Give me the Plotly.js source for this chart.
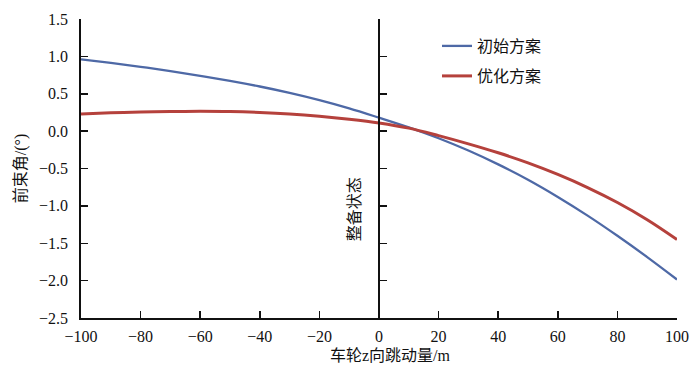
<!DOCTYPE html>
<html>
<head>
<meta charset="utf-8">
<script src="https://cdn.plot.ly/plotly-3.0.1.min.js"></script>
<style>html,body{margin:0;padding:0;background:#fff;}#chart{width:700px;height:369px;}
#chart svg text{font-family:'Liberation Serif','Noto Sans CJK SC',serif !important;}</style>
</head>
<body>
<div id="chart"></div>
<script>
const xValues = [-100,-90,-80,-70,-60,-50,-40,-30,-20,-10,0,10,20,30,40,50,60,70,80,90,100];
const initialPlan = [0.96,0.912,0.86,0.803,0.74,0.672,0.597,0.512,0.415,0.305,0.18,0.05,-0.095,-0.26,-0.445,-0.65,-0.88,-1.13,-1.40,-1.685,-1.985];
const optimizedPlan = [0.23,0.245,0.255,0.262,0.265,0.262,0.25,0.23,0.20,0.16,0.11,0.04,-0.06,-0.17,-0.29,-0.425,-0.58,-0.755,-0.955,-1.185,-1.45];
const seriesNames = ['初始方案','优化方案'];
const xTicks = [-100,-80,-60,-40,-20,0,20,40,60,80,100];
const yTicks = [-2.5,-2.0,-1.5,-1.0,-0.5,0.0,0.5,1.0,1.5];
const yRange = [-2.5,1.5];
const refX = [0,0];
const refLabel = '整备状态';
const xTitle = '车轮z向跳动量/m';
const yTitle = '前束角/(°)';

const FAM = 'Liberation Serif';
const fmt = v => (v < 0 ? '\u2212' : '') + Math.abs(v).toString();
const fmtY = v => (v < 0 ? '\u2212' : '') + Math.abs(v).toFixed(1);
const tf = (s) => ({family: FAM, size: s || 16, color: '#111'});

const traces = [
  {x: xValues, y: initialPlan, name: seriesNames[0], mode: 'lines', line: {color: '#4e69a6', width: 2.3, shape: 'spline'}, legend: 'legend'},
  {x: xValues, y: optimizedPlan, name: seriesNames[1], mode: 'lines', line: {color: '#b5413c', width: 3, shape: 'spline'}, legend: 'legend2'},
  {x: refX, y: yRange, yaxis: 'y2', mode: 'lines', line: {color: '#111', width: 2}, showlegend: false, hoverinfo: 'skip'}
];
const layout = {
  width: 700, height: 369,
  margin: {l: 81, r: 23, t: 19, b: 51},
  paper_bgcolor: '#fff', plot_bgcolor: '#fff',
  font: tf(16),
  showlegend: true,
  xaxis: {
    range: [-100, 100], tickvals: xTicks, ticktext: xTicks.map(fmt),
    ticks: 'inside', ticklen: 7, tickwidth: 1.5, tickcolor: '#111',
    showline: true, linecolor: '#111', linewidth: 1.8, showgrid: false, zeroline: false,
    tickfont: tf(16), ticklabelstandoff: 3
  },
  yaxis: {
    range: yRange, tickvals: yTicks, ticktext: yTicks.map(fmtY),
    ticks: 'inside', ticklen: 7, tickwidth: 1.5, tickcolor: '#111',
    showline: true, linecolor: '#111', linewidth: 1.8, showgrid: false, zeroline: false,
    tickfont: tf(16), ticklabelstandoff: 8,
    title: {text: yTitle, font: tf(16), standoff: 8}
  },
  yaxis2: {
    range: yRange, overlaying: 'y', anchor: 'free', position: 0.5, side: 'left',
    tickvals: yTicks, ticks: 'inside', ticklen: 7, tickwidth: 1.5, tickcolor: '#111',
    showticklabels: false, showline: false, showgrid: false, zeroline: false
  },
  legend: {x: (437-81)/596, y: (318-29)/299, xanchor: 'left', yanchor: 'top', bgcolor: 'rgba(0,0,0,0)',
           font: tf(16), itemwidth: 30},
  legend2: {x: (437-81)/596, y: (318-59)/299, xanchor: 'left', yanchor: 'top', bgcolor: 'rgba(0,0,0,0)',
           font: tf(16), itemwidth: 30},
  annotations: [
    {x: 0, y: -1.05, xref: 'x', yref: 'y', text: refLabel, textangle: -90, showarrow: false,
     xanchor: 'right', xshift: -14, font: tf(16)},
    {x: 0.52, y: 0, xref: 'paper', yref: 'paper', yanchor: 'top', yshift: -27, text: xTitle, showarrow: false,
     font: tf(16)}
  ]
};
Plotly.newPlot('chart', traces, layout, {displayModeBar: false, staticPlot: true});
</script>
</body>
</html>
